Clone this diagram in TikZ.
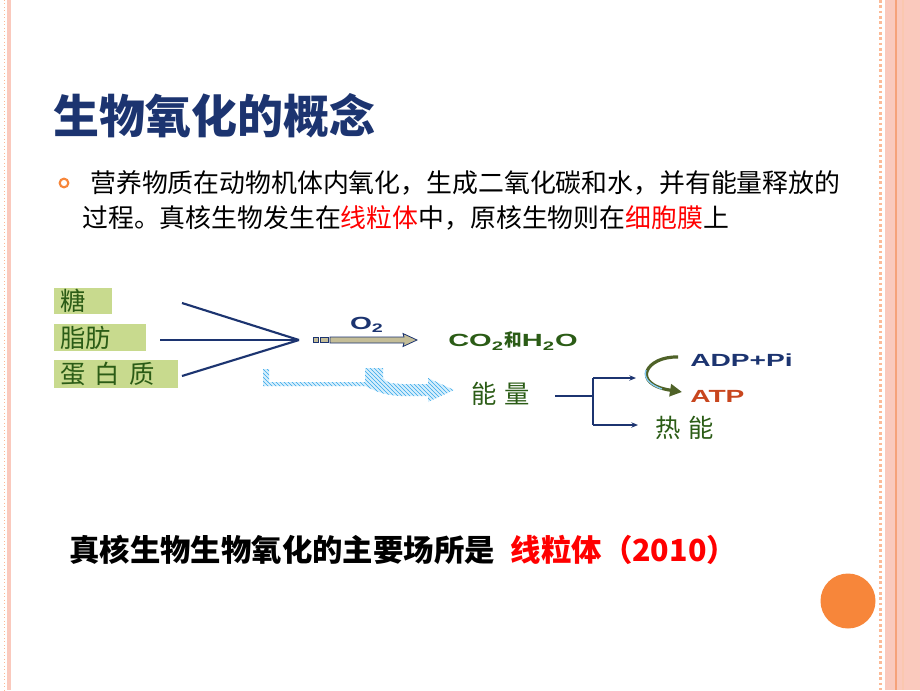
\documentclass[tikz,border=0pt]{standalone}
\usepackage{fontspec}
\setmainfont{Liberation Sans}
\newfontfamily\cjk{Noto Sans CJK SC}
\usetikzlibrary{patterns,arrows.meta}
\definecolor{navy}{HTML}{1C3470}
\definecolor{dgreen}{HTML}{2B5C16}
\definecolor{boxgreen}{HTML}{C8DA8E}
\definecolor{khaki}{HTML}{C4BD97}
\definecolor{hatchblue}{HTML}{35A8EA}
\definecolor{lightblue}{HTML}{D8EFFC}
\definecolor{olive}{HTML}{4F6228}
\definecolor{atpred}{HTML}{C8461E}
\definecolor{orng}{HTML}{F7863A}
\definecolor{pinkband}{HTML}{FAC9BD}
\definecolor{orline}{HTML}{F6A27A}
\tikzset{
  lbl/.style={inner sep=0pt, text=dgreen, font=\cjk\fontsize{19}{22}\selectfont},
  lat/.style={inner sep=0pt, font=\fontsize{13.2}{15}\selectfont\bfseries},
  srcbox/.style={fill=boxgreen, inner xsep=4.5pt, inner ysep=0pt, align=left, text=dgreen,
     font=\cjk\fontsize{19}{22}\selectfont, anchor=west},
  conn/.style={draw=navy, line width=1.6pt},
  thin/.style={draw=navy, line width=1.1pt},
  thinarr/.style={thin, -{Stealth[length=5pt,width=4pt]}},
}
\begin{document}
\begin{tikzpicture}[x=0.75pt,y=-0.75pt]
\useasboundingbox (0,0) rectangle (920,690);
% borders
\fill[pinkband] (7,0) rectangle (10.5,690);
\draw[pinkband!80!orange, line width=0.6pt, dotted] (4,0) -- (4,690);
\fill[pinkband] (885,0) rectangle (920,690);
\draw[orline, line width=1.5pt] (896,0) -- (896,690);
\draw[orline!60, line width=0.8pt] (903,0) -- (903,690);
\draw[pinkband!80!orange, line width=2pt, dotted] (880.5,0) -- (880.5,690);

% title
\node[anchor=west, inner sep=0pt, text=navy, font=\cjk\fontsize{34.5}{40}\selectfont\bfseries] (title) at (53,116) {生物氧化的概念};

% bullet
\node[circle, draw=orng, line width=1.6pt, minimum size=6.5pt, inner sep=0pt] (bul) at (64,183) {};
\node[anchor=west, inner sep=0pt, font=\cjk\fontsize{19.4}{24}\selectfont] (l1) at (90,183) {营养物质在动物机体内氧化，生成二氧化碳和水，并有能量释放的};
\node[anchor=west, inner sep=0pt, font=\cjk\fontsize{19.4}{24}\selectfont] (l2) at (82,218) {过程。真核生物发生在\textcolor{red}{线粒体}中，原核生物则在\textcolor{red}{细胞膜}上};

% source boxes
\node[srcbox, text width=34.5pt, minimum height=19.5pt] (tang) at (54,301) {糖};
\node[srcbox, text width=60pt, minimum height=20.25pt] (zf) at (54,337.5) {脂肪};
\node[srcbox, text width=84pt, minimum height=21pt] (dbz) at (54,374) {蛋\hspace{7pt}白\hspace{7pt}质};

% converging lines
\coordinate (m) at (299,340);
\coordinate (a1) at (182,303);
\coordinate (a2) at (160,340);
\coordinate (a3) at (182,376);
\draw[conn] (a1) -- (m);
\draw[conn] (a2) -- (m);
\draw[conn] (a3) -- (m);

% khaki arrow
\draw[navy, fill=khaki, line width=0.6pt] (313,337.5) rectangle (318,342.5);
\draw[navy, fill=khaki, line width=0.6pt] (320,337.5) rectangle (328,342.5);
\draw[navy, fill=khaki, line width=0.6pt] (330,337) -- (404,337) -- (403,333.5) -- (417,340) -- (403,346.5) -- (404,343) -- (330,343) -- cycle;
\node[lat, text=navy] (o2) at (367,325) {\scalebox{1.6}[1]{O\textsubscript{2}}};
\node[lat, text=dgreen, anchor=west] (co2) at (448,341) {\scalebox{1.65}[1]{CO\textsubscript{2}}{\cjk 和}\scalebox{1.65}[1]{H\textsubscript{2}O}};

% blue hatched bent arrow
\path[fill=lightblue] (263,369) -- (269,369) -- (269,382) -- (365,382) -- (365,368) -- (383,368) -- (383,378)
  .. controls (388,383) .. (402,384) -- (428,384) -- (428,378) -- (454,390) -- (428,402) -- (428,396) -- (400,396)
  .. controls (380,395) and (370,388) .. (365,386) -- (263,386) -- cycle;
\path[pattern=north west lines, pattern color=hatchblue] (263,369) -- (269,369) -- (269,382) -- (365,382) -- (365,368) -- (383,368) -- (383,378)
  .. controls (388,383) .. (402,384) -- (428,384) -- (428,378) -- (454,390) -- (428,402) -- (428,396) -- (400,396)
  .. controls (380,395) and (370,388) .. (365,386) -- (263,386) -- cycle;

% energy
\node[lbl, anchor=west] (nl) at (471,394) {能\hspace{6pt}量};
\coordinate (s) at (555,396);
\coordinate (j) at (593,396);
\coordinate (ju) at (593,378);
\coordinate (jd) at (593,425);
\draw[thin] (s) -- (j);
\draw[thin] (ju) -- (jd);
\node[lat, text=navy, anchor=west] (adp) at (690,360) {\scalebox{1.6}[1]{ADP+Pi}};
\node[lat, text=atpred, anchor=west] (atp) at (690,396) {\scalebox{1.6}[1]{ATP}};
\node[lbl, anchor=west] (rn) at (655,428) {热\hspace{6pt}能};
\draw[thinarr] (ju) -- (636,378);
\draw[thinarr] (jd) -- (638,425);
% curved arrow
\draw[olive, line width=2.4pt, -{Triangle[length=9pt,width=9pt]}] (678,357)
   .. controls (646,356) and (630,384) .. (682,392);
\draw[hatchblue!60, line width=1pt] (646,370) .. controls (643,378) and (650,385) .. (662,389);

% bottom statement
\node[anchor=west, inner sep=0pt, font=\cjk\fontsize{22.8}{26}\selectfont\bfseries] (bot) at (69,550) {真核生物生物氧化的主要场所是\hspace{12pt}\textcolor{red}{线粒体（2010）}};

% orange circle
\fill[orng] (848,601) circle (27.5);
\end{tikzpicture}
\end{document}
